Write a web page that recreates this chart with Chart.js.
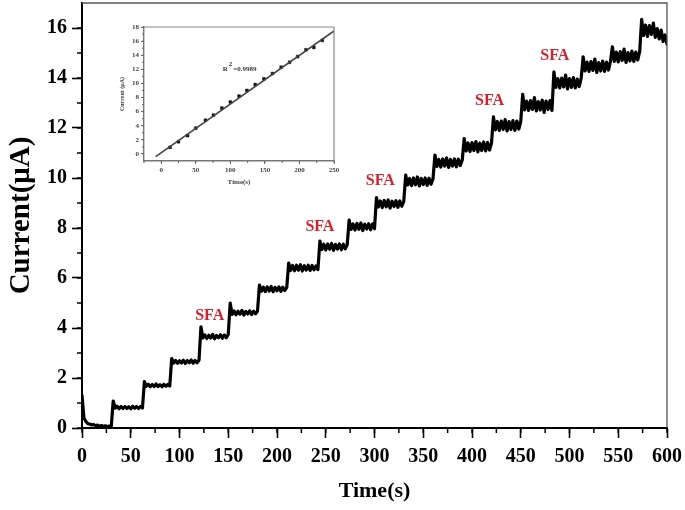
<!DOCTYPE html>
<html>
<head>
<meta charset="utf-8">
<script src="https://cdn.jsdelivr.net/npm/chart.js@4.4.0/dist/chart.umd.min.js"></script>
<style>
  html, body { margin: 0; padding: 0; background: #fff; }
  #wrap { position: relative; width: 685px; height: 510px; }
  #main { position: absolute; left: 0; top: 0; width: 685px; height: 510px; }
  #inset { position: absolute; left: 115px; top: 20px; width: 230px; height: 168px; }
</style>
</head>
<body>
<div id="wrap">
  <div id="main"><canvas id="mainChart"></canvas></div>
  <div id="inset"><canvas id="insetChart"></canvas></div>
</div>
<script>
// amperometric trace, one reading every 2 s (0 .. 600 s)
const sampleInterval = 2;
const current = [
  1.30, 0.40, 0.26, 0.17, 0.16, 0.12, 0.14, 0.09, 0.12, 0.07, 0.10, 0.06, 0.09, 0.05, 0.08, 0.05,
  1.08, 0.80, 0.87, 0.77, 0.86, 0.78, 0.86, 0.78, 0.85, 0.77, 0.87, 0.79, 0.86, 0.78, 0.86, 0.80,
  1.86, 1.67, 1.75, 1.65, 1.74, 1.66, 1.76, 1.66, 1.73, 1.65, 1.75, 1.67, 1.74, 1.68,
  2.78, 2.60, 2.70, 2.59, 2.69, 2.60, 2.71, 2.58, 2.70, 2.61, 2.72, 2.59, 2.70, 2.61, 2.71,
  4.05, 3.60, 3.72, 3.58, 3.71, 3.60, 3.74, 3.57, 3.70, 3.61, 3.73, 3.59, 3.72, 3.61, 3.74,
  5.00, 4.54, 4.68, 4.53, 4.67, 4.55, 4.70, 4.52, 4.66, 4.56, 4.69, 4.54, 4.67, 4.57, 4.68,
  5.72, 5.47, 5.63, 5.46, 5.64, 5.48, 5.66, 5.45, 5.62, 5.49, 5.64, 5.47, 5.63, 5.50, 5.62,
  6.60, 6.30, 6.50, 6.29, 6.51, 6.31, 6.53, 6.28, 6.49, 6.32, 6.51, 6.30, 6.50, 6.33, 6.48, 6.34,
  7.48, 7.14, 7.35, 7.12, 7.36, 7.15, 7.38, 7.11, 7.34, 7.16, 7.36, 7.13, 7.35, 7.17, 7.33,
  8.32, 7.94, 8.16, 7.92, 8.18, 7.95, 8.20, 7.90, 8.15, 7.96, 8.17, 7.93, 8.16, 7.97,
  9.22, 8.84, 9.08, 8.82, 9.10, 8.85, 9.12, 8.80, 9.07, 8.86, 9.09, 8.83, 9.08, 8.87, 9.06,
  10.12, 9.72, 9.98, 9.70, 10.00, 9.73, 10.04, 9.68, 9.98, 9.74, 10.00, 9.71, 9.99, 9.75, 9.97,
  10.92, 10.46, 10.74, 10.44, 10.76, 10.48, 10.80, 10.42, 10.74, 10.48, 10.76, 10.45, 10.75, 10.50, 10.72,
  11.58, 11.08, 11.40, 11.06, 11.42, 11.10, 11.46, 11.04, 11.40, 11.10, 11.44, 11.08, 11.42, 11.12, 11.40,
  12.45, 11.92, 12.26, 11.90, 12.28, 11.94, 12.34, 11.88, 12.26, 11.94, 12.30, 11.90, 12.28, 11.96, 12.26,
  13.35, 12.72, 13.08, 12.70, 13.10, 12.74, 13.22, 12.68, 13.06, 12.72, 13.12, 12.62, 13.08, 12.74, 13.10, 12.70,
  14.25, 13.62, 13.98, 13.60, 14.00, 13.64, 14.12, 13.56, 13.98, 13.62, 14.02, 13.60, 13.96, 13.66, 14.00,
  14.85, 14.28, 14.64, 14.26, 14.66, 14.30, 14.76, 14.22, 14.62, 14.28, 14.68, 14.26, 14.64, 14.32, 14.66,
  15.25, 14.66, 15.04, 14.64, 15.06, 14.70, 15.16, 14.62, 15.02, 14.68, 15.08, 14.66, 15.04, 14.72, 15.06,
  16.35, 15.70, 16.12, 15.66, 16.10, 15.74, 16.20, 15.62, 15.98, 15.56, 15.92, 15.46, 15.72, 15.35
];

// "SFA" addition markers (time s, current uA)
const sfaTime = [131, 244, 306, 418, 485];
const sfaCurrent = [4.48, 8.04, 9.88, 13.1, 14.9];

// inset calibration: points + fitted line
const calTime = [12.7, 24.9, 38, 50, 64, 75.5, 87.7, 100, 112.6, 124, 136, 148.6, 161, 173.5, 185.7, 197.4, 209.5, 220.8, 233];
const calCurrent = [0.94, 1.73, 2.6, 3.66, 4.78, 5.5, 6.5, 7.36, 8.2, 9.0, 9.84, 10.64, 11.4, 12.3, 13.0, 13.8, 14.77, 15.1, 16.1];
const fitTime = [-8, 250];
const fitCurrent = [-0.38, 17.44];
const r2Text = '=0.9989';

const serif = "'Liberation Serif', 'Times New Roman', serif";

// minor ticks between the labelled ones
const minorTicks = {
  id: 'minorTicks',
  afterDraw(chart, args, opts) {
    const ctx = chart.ctx;
    (opts.list || []).forEach(m => {
      const s = chart.scales[m.axis];
      ctx.save();
      ctx.strokeStyle = m.color;
      ctx.lineWidth = m.width;
      ctx.beginPath();
      for (let v = m.from; v <= m.to + 1e-9; v += m.step) {
        const p = s.getPixelForValue(v);
        if (s.isHorizontal()) { ctx.moveTo(p, s.top); ctx.lineTo(p, s.top + m.len); }
        else { ctx.moveTo(s.right, p); ctx.lineTo(s.right - m.len, p); }
      }
      ctx.stroke();
      ctx.restore();
    });
  }
};

// box round the plot area
const frameBox = {
  id: 'frameBox',
  afterDraw(chart, args, opts) {
    const { ctx, chartArea: a } = chart;
    ctx.save();
    ctx.strokeStyle = opts.color;
    ctx.lineWidth = opts.width;
    ctx.beginPath();
    ctx.moveTo(a.left, a.top);
    ctx.lineTo(a.right, a.top);
    ctx.lineTo(a.right, a.bottom);
    ctx.stroke();
    ctx.restore();
  }
};

// text labels placed in data coordinates
const dataText = {
  id: 'dataText',
  afterDatasetsDraw(chart, args, opts) {
    const ctx = chart.ctx;
    const sx = chart.scales.x, sy = chart.scales.y;
    ctx.save();
    (opts.items || []).forEach(it => {
      ctx.font = it.font;
      ctx.fillStyle = it.color;
      ctx.textAlign = it.align || 'center';
      ctx.textBaseline = 'middle';
      let x = sx.getPixelForValue(it.x);
      const y = sy.getPixelForValue(it.y);
      if (it.sup) {
        ctx.textAlign = 'left';
        ctx.fillText(it.base, x, y);
        x += ctx.measureText(it.base).width + 1;
        ctx.fillText(it.sup, x, y - 5);
        x += ctx.measureText(it.sup).width + 1;
        ctx.fillText(it.text, x, y);
      } else {
        ctx.fillText(it.text, x, y);
      }
    });
    ctx.restore();
  }
};

// keep the plot area exactly where the axes are placed
const noEdgePad = s => {
  s.paddingTop = 0; s.paddingBottom = 0; s.paddingLeft = 0; s.paddingRight = 0;
};

const trace = current.map((v, i) => ({ x: i * sampleInterval, y: v }));

new Chart(document.getElementById('mainChart'), {
  type: 'line',
  data: {
    datasets: [{
      data: trace,
      borderColor: '#000',
      borderWidth: 3.2,
      borderJoinStyle: 'round',
      borderCapStyle: 'round',
      pointRadius: 0,
      tension: 0,
      fill: false
    }]
  },
  options: {
    responsive: true,
    maintainAspectRatio: false,
    animation: false,
    layout: { padding: { top: 3, right: 18, left: 0, bottom: 0 } },
    plugins: {
      legend: { display: false },
      tooltip: { enabled: false },
      minorTicks: {
        list: [
          { axis: 'x', from: 0, to: 600, step: 25, len: 5, color: '#000', width: 1.5 },
          { axis: 'y', from: 0, to: 16, step: 1, len: 5, color: '#000', width: 1.5 }
        ]
      },
      frameBox: { color: '#555', width: 1.3 },
      dataText: {
        items: sfaTime.map((t, i) => ({
          x: t, y: sfaCurrent[i], text: 'SFA',
          font: 'bold 16px ' + serif, color: '#d81e28'
        }))
      }
    },
    scales: {
      x: {
        type: 'linear',
        min: 0,
        max: 600,
        afterFit: s => { s.height = 82; noEdgePad(s); },
        border: { color: '#000', width: 2 },
        grid: { drawOnChartArea: false, tickLength: 10, tickColor: '#000', tickWidth: 1.6 },
        ticks: {
          stepSize: 50, autoSkip: false, maxRotation: 0, padding: 7, color: '#000',
          font: { family: serif, size: 20, weight: 'bold' }
        },
        title: {
          display: true, text: 'Time(s)', color: '#000',
          font: { family: serif, size: 22, weight: 'bold' },
          padding: { top: 0, bottom: 5 }
        }
      },
      y: {
        type: 'linear',
        min: 0,
        max: 17,
        afterFit: s => { s.width = 82; noEdgePad(s); },
        border: { color: '#000', width: 2 },
        grid: { drawOnChartArea: false, tickLength: 10, tickColor: '#000', tickWidth: 1.6 },
        ticks: {
          stepSize: 2, includeBounds: false, autoSkip: false, padding: 5, color: '#000',
          font: { family: serif, size: 20, weight: 'bold' }
        },
        title: {
          display: true, text: 'Current(μA)', color: '#000',
          font: { family: serif, size: 29, weight: 'bold' },
          padding: { top: 4, bottom: 0 }
        }
      }
    }
  },
  plugins: [minorTicks, frameBox, dataText]
});

// Inset: calibration plot
new Chart(document.getElementById('insetChart'), {
  type: 'line',
  data: {
    datasets: [
      {
        data: fitTime.map((t, i) => ({ x: t, y: fitCurrent[i] })),
        borderColor: '#444',
        borderWidth: 1.6,
        pointRadius: 0,
        fill: false
      },
      {
        data: calTime.map((t, i) => ({ x: t, y: calCurrent[i] })),
        showLine: false,
        pointStyle: 'rect',
        pointRadius: 2,
        pointBackgroundColor: '#111',
        pointBorderColor: '#111',
        pointBorderWidth: 0.5
      }
    ]
  },
  options: {
    responsive: true,
    maintainAspectRatio: false,
    animation: false,
    layout: { padding: { top: 7, right: 11, left: 0, bottom: 0 } },
    plugins: {
      legend: { display: false },
      tooltip: { enabled: false },
      minorTicks: {
        list: [
          { axis: 'x', from: -25, to: 250, step: 25, len: 2, color: '#666', width: 1 },
          { axis: 'y', from: 0, to: 18, step: 1, len: 2, color: '#666', width: 1 }
        ]
      },
      frameBox: { color: '#888', width: 1.2 },
      dataText: {
        items: [{
          x: 89, y: 12, base: 'R', sup: '2', text: r2Text,
          font: 'bold 7px ' + serif, color: '#333'
        }]
      }
    },
    scales: {
      x: {
        type: 'linear',
        min: -25,
        max: 250,
        afterFit: s => { s.height = 27; noEdgePad(s); },
        border: { color: '#777', width: 1.4 },
        grid: { drawOnChartArea: false, tickLength: 3, tickColor: '#666', tickWidth: 1 },
        ticks: {
          stepSize: 50, includeBounds: false, autoSkip: false, maxRotation: 0, padding: 2, color: '#444',
          font: { family: serif, size: 7, weight: 'bold' }
        },
        title: {
          display: true, text: 'Time(s)', color: '#444',
          font: { family: serif, size: 7, weight: 'bold' },
          padding: { top: 0, bottom: 2 }
        }
      },
      y: {
        type: 'linear',
        min: -1,
        max: 18,
        afterFit: s => { s.width = 29; noEdgePad(s); },
        border: { color: '#777', width: 1.4 },
        grid: { drawOnChartArea: false, tickLength: 3, tickColor: '#666', tickWidth: 1 },
        ticks: {
          stepSize: 2, includeBounds: false, autoSkip: false, padding: 2, color: '#444',
          font: { family: serif, size: 7, weight: 'bold' }
        },
        title: {
          display: true, text: 'Current (μA)', color: '#444',
          font: { family: serif, size: 6, weight: 'bold' },
          padding: { top: 4, bottom: 0 }
        }
      }
    }
  },
  plugins: [minorTicks, frameBox, dataText]
});
</script>
</body>
</html>
